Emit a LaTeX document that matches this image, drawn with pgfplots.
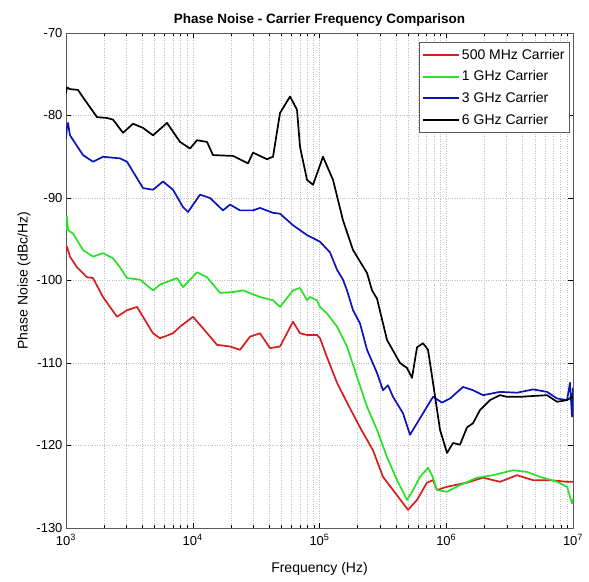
\documentclass[border=0pt]{standalone}
\usepackage{pgfplots}
\pgfplotsset{compat=1.18}
\usepackage{fontspec}
\setmainfont{Liberation Sans}
\definecolor{cred}{RGB}{215,30,30}
\definecolor{cgreen}{RGB}{40,225,40}
\definecolor{cblue}{RGB}{10,20,185}
\begin{document}
\begin{tikzpicture}
\begin{axis}[
  scale only axis, width=507pt, height=495pt,
  xmode=log, xmin=1e3, xmax=1e7, ymin=-130, ymax=-70,
  ytick={-130,-120,-110,-100,-90,-80,-70},
  xtick={1e3,1e4,1e5,1e6,1e7},
  xticklabels={10\textsuperscript{3},10\textsuperscript{4},10\textsuperscript{5},10\textsuperscript{6},10\textsuperscript{7}},
  tick align=inside, major tick length=5pt, minor tick length=3pt,
  tick style={black, line width=0.4pt},
  grid=both,
  major grid style={gray!50, dotted, line width=0.5pt},
  minor grid style={gray!50, dotted, line width=0.5pt},
  axis line style={gray!70!black, line width=0.8pt},
  ticklabel style={font=\fontsize{13}{15}\selectfont},
  xticklabel style={yshift=-3pt},
  /pgf/number format/assume math mode=true,
  title={\textbf{Phase Noise - Carrier Frequency Comparison}},
  title style={font=\fontsize{13.5}{15}\selectfont, yshift=-3pt},
  xlabel={Frequency (Hz)}, ylabel={Phase Noise (dBc/Hz)},
  label style={font=\fontsize{14}{16}\selectfont},
  xlabel style={yshift=-10pt}, ylabel style={yshift=-1pt},
  legend style={at={(rel axis cs:0.994,0.982)}, anchor=north east,
    font=\fontsize{14}{16}\selectfont, draw=gray!70!black, line width=0.6pt,
    row sep=6pt, inner sep=3pt, inner ysep=5pt},
  legend cell align=left,
  legend image code/.code={\draw[#1, line width=2pt] (0cm,0cm) -- (1.25cm,0cm);},
  every axis plot/.append style={line width=1.7pt, line join=round},
]
\addplot[cred] coordinates {
(1000,-96.5)(1018,-95.9)(1075,-97.1)(1221,-98.4)(1464,-99.6)(1633,-99.7)(1958,-102.0)
(2526,-104.4)(3029,-103.6)(3633,-103.2)(4051,-104.4)(4858,-106.4)(5515,-107.0)(6986,-106.4)
(7933,-105.6)(10046,-104.4)(12045,-105.8)(15540,-107.8)(19675,-108.0)(23600,-108.4)
(28300,-106.8)(33940,-106.4)(40700,-108.2)(48800,-108.0)(61800,-105.0)(70180,-106.4)
(79690,-106.6)(95560,-106.6)(100900,-107.0)(114600,-109.3)(137500,-112.4)(164800,-114.8)
(208700,-117.8)(264400,-120.6)(316900,-123.8)(380100,-125.4)(455900,-127.0)(499300,-127.8)
(587800,-126.6)(704900,-124.5)(786200,-124.2)(845300,-125.4)(1.014e6,-125.0)(1.458e6,-124.5)
(1.950e6,-123.9)(2.655e6,-124.4)(3.615e6,-123.6)(4.836e6,-124.2)(6.584e6,-124.2)(8.967e6,-124.4)(1e7,-124.4)
};
\addlegendentry{500 MHz Carrier}
\addplot[cgreen] coordinates {
(1000,-94.0)(1018,-92.3)(1037,-93.9)(1136,-94.3)(1362,-96.3)(1633,-97.1)(1958,-96.7)
(2349,-97.3)(2667,-98.4)(3029,-99.7)(3836,-99.9)(4858,-101.2)(5515,-100.5)(7511,-99.7)
(8379,-100.8)(10803,-99.0)(12954,-99.6)(16406,-101.5)(20777,-101.4)(24915,-101.2)
(33940,-102.0)(42970,-102.4)(48800,-103.2)(61800,-101.2)(70180,-100.9)(79690,-102.4)
(84150,-102.0)(95560,-102.4)(100900,-103.2)(114600,-104.0)(137500,-105.6)(164800,-108.0)
(197700,-111.7)(237100,-115.3)(284200,-118.1)(340800,-121.4)(408800,-124.2)(490100,-126.6)
(546600,-125.4)(620800,-123.8)(717800,-122.7)(772000,-123.6)(845300,-125.4)(1.014e6,-125.6)
(1.284e6,-124.8)(1.748e6,-123.9)(2.337e6,-123.6)(3.363e6,-123.0)(4.337e6,-123.2)(5.49e6,-123.8)
(7.478e6,-124.4)(8.967e6,-125.0)(9.82e6,-127.0)(1e7,-126.5)
};
\addlegendentry{1 GHz Carrier}
\addplot[cblue] coordinates {
(1000,-82.8)(1018,-81.4)(1037,-80.9)(1075,-82.4)(1362,-84.8)(1633,-85.6)(1958,-85.0)
(2667,-85.2)(3029,-85.6)(3378,-86.8)(4051,-88.8)(4858,-89.0)(5826,-88.0)(6986,-89.0)
(8379,-91.1)(9174,-91.7)(11408,-89.6)(13683,-90.0)(17325,-91.5)(19675,-90.8)(23600,-91.5)
(29880,-91.5)(33940,-91.2)(42970,-91.8)(48800,-91.9)(61800,-93.3)(79690,-94.5)(100900,-95.3)
(121000,-96.6)(137500,-98.7)(153200,-99.9)(164800,-101.2)(183800,-103.6)(208700,-105.2)
(237100,-108.4)(284200,-111.2)(316900,-113.3)(347100,-112.7)(380100,-114.1)(455900,-116.1)
(517600,-118.7)(587800,-117.3)(704900,-115.3)(786200,-114.1)(925700,-114.8)(1.071e6,-114.3)
(1.356e6,-112.9)(1.626e6,-113.3)(1.950e6,-113.9)(2.655e6,-113.5)(3.615e6,-113.6)(4.836e6,-113.2)
(6.236e6,-113.5)(7.478e6,-114.3)(8.967e6,-114.5)(9.47e6,-112.4)(9.82e6,-116.5)(1e7,-113.0)
};
\addlegendentry{3 GHz Carrier}
\addplot[black] coordinates {
(1000,-77.3)(1018,-76.6)(1075,-76.8)(1244,-76.9)(1362,-77.8)(1756,-80.2)(2106,-80.3)
(2349,-80.5)(2817,-82.1)(3378,-81.0)(4051,-81.5)(4858,-82.4)(6265,-80.9)(7933,-83.2)
(9513,-84.0)(10803,-83.0)(12954,-83.2)(14450,-84.8)(20777,-84.9)(27290,-85.8)(29880,-84.5)
(38540,-85.3)(42970,-85.0)(48800,-79.7)(58530,-77.7)(66450,-79.3)(70180,-83.8)(79690,-87.8)
(88850,-88.4)(106560,-85.0)(127800,-87.8)(153200,-92.7)(183800,-96.3)(237100,-99.1)
(259600,-101.2)(284200,-102.2)(340800,-107.2)(431600,-110.0)(490100,-110.6)(536800,-111.8)
(587800,-108.1)(655500,-107.6)(717800,-108.4)(786200,-112.4)(892700,-118.1)(1.014e6,-120.9)
(1.131e6,-119.7)(1.284e6,-119.9)(1.458e6,-117.8)(1.626e6,-117.3)(1.846e6,-115.7)(2.214e6,-114.5)
(2.655e6,-113.9)(3.016e6,-114.1)(3.818e6,-114.1)(4.836e6,-114.0)(6.236e6,-113.9)(7.478e6,-114.7)
(8.967e6,-114.5)(9.82e6,-114.1)(1e7,-114.3)
};
\addlegendentry{6 GHz Carrier}
\end{axis}
\pgfresetboundingbox
\useasboundingbox (current axis.south west) ++(-66pt,-53pt) rectangle ++(589pt,581pt);
\end{tikzpicture}
\end{document}
